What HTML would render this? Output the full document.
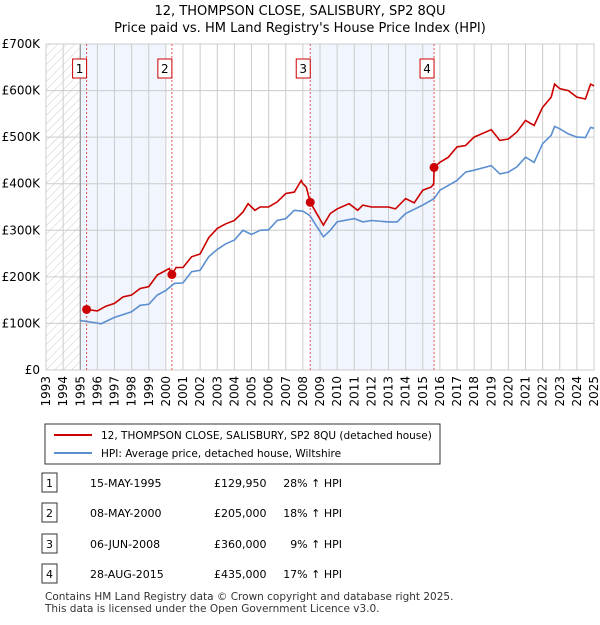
<!DOCTYPE html>
<html><head><meta charset="utf-8"><style>
body{margin:0;width:600px;height:620px;background:#fff;font-family:"Liberation Sans","DejaVu Sans",sans-serif;overflow:hidden}
svg text{font-family:"DejaVu Sans","Liberation Sans",sans-serif}
</style></head><body>
<svg id="chart" width="600" height="620" xmlns="http://www.w3.org/2000/svg">
<defs><pattern id="hatch" width="6" height="6" patternUnits="userSpaceOnUse" patternTransform="rotate(45)"><line x1="0" y1="0" x2="0" y2="6" stroke="#ccc" stroke-width="1"/></pattern></defs>
<text x="300" y="15" text-anchor="middle" font-size="13">12, THOMPSON CLOSE, SALISBURY, SP2 8QU</text>
<text x="300" y="32" text-anchor="middle" font-size="13">Price paid vs. HM Land Registry's House Price Index (HPI)</text>
<g id="plot"></g>
<g>
<rect x="45" y="424" width="395" height="40" fill="#fff" stroke="#333"/>
<line x1="54" y1="435" x2="92" y2="435" stroke="#cc0000" stroke-width="2"/>
<text x="101" y="439" font-size="10.5">12, THOMPSON CLOSE, SALISBURY, SP2 8QU (detached house)</text>
<line x1="54" y1="453" x2="92" y2="453" stroke="#5b8fd0" stroke-width="2"/>
<text x="101" y="457" font-size="10.5">HPI: Average price, detached house, Wiltshire</text>
</g>
<g id="table" font-size="11"></g>
<text x="45" y="600" font-size="10.5" fill="#333">Contains HM Land Registry data © Crown copyright and database right 2025.</text>
<text x="45" y="612" font-size="10.5" fill="#333">This data is licensed under the Open Government Licence v3.0.</text>
</svg>
<script>
const hpiYears=[1995,1996,1996.2,1997,1998,1998.5,1999,1999.5,2000,2000.5,2001,2001.5,2002,2002.5,2003,2003.5,2004,2004.5,2005,2005.5,2006,2006.5,2007,2007.5,2008,2008.4,2009.2,2009.6,2010,2011,2011.5,2012,2013,2013.5,2014,2015,2015.66,2016,2017,2017.5,2018,2019,2019.5,2020,2020.5,2021,2021.5,2022,2022.5,2022.7,2023,2023.5,2024,2024.5,2024.8,2025];
const hpiValues=[106,101,99,113,125,139,141,161,171,186,187,211,214,243,259,271,279,300,291,300,301,321,325,343,341,332,286,300,318,325,318,321,318,318,336,354,368,386,407,425,429,439,421,425,436,457,446,486,504,523,518,507,500,499,521,519];
const priceYears=[1995.2,1995.37,1996,1996.5,1997,1997.5,1998,1998.5,1999,1999.5,2000.2,2000.35,2000.6,2001,2001.5,2002,2002.5,2003,2003.5,2004,2004.5,2004.8,2005.2,2005.5,2006,2006.5,2007,2007.5,2007.9,2008,2008.2,2008.43,2009.2,2009.6,2010,2010.7,2011.2,2011.5,2012,2013,2013.4,2014,2014.5,2015,2015.5,2015.64,2015.66,2016,2016.5,2017,2017.5,2018,2019,2019.5,2020,2020.5,2021,2021.5,2022,2022.5,2022.7,2023,2023.5,2024,2024.5,2024.8,2025];
const priceValues=[133,130,127,137,143,157,161,175,179,204,218,205,220,220,243,249,284,304,314,321,339,357,343,350,350,361,379,382,407,400,393,360,311,336,346,357,343,354,350,350,346,368,359,386,393,400,435,446,457,479,482,500,516,493,496,511,536,525,564,586,614,604,600,586,582,614,610];
const saleYears=[1995.37,2000.35,2008.43,2015.66];
const saleValues=[129.95,205,360,435];
const saleLabels=["1","2","3","4"];
const saleDates=["15-MAY-1995","08-MAY-2000","06-JUN-2008","28-AUG-2015"];
const salePrices=["£129,950","£205,000","£360,000","£435,000"];
const saleHpi=["28% ↑ HPI","18% ↑ HPI","9% ↑ HPI","17% ↑ HPI"];
const yTicks=[0,100,200,300,400,500,600,700];
const yTickLabels=["£0","£100K","£200K","£300K","£400K","£500K","£600K","£700K"];
const X0=46,X1=594,Y0=370,Y1=44;
const xs=y=>X0+(y-1993)/32*(X1-X0);
const ys=v=>Y0-v/700*(Y0-Y1);
const NS="http://www.w3.org/2000/svg";
const plot=document.getElementById('plot');
function mk(tag,attrs,parent){const e=document.createElementNS(NS,tag);for(const k in attrs)e.setAttribute(k,attrs[k]);(parent||plot).appendChild(e);return e;}
let e;
e=mk('rect',{x:xs(1993),y:Y1,width:xs(1995)-xs(1993),height:Y0-Y1,fill:'url(#hatch)'});


e=mk('rect',{x:xs(1995),y:Y1,width:xs(2000)-xs(1995),height:Y0-Y1,fill:'#f1f5fd'});


e=mk('rect',{x:xs(saleYears[2]),y:Y1,width:xs(saleYears[3])-xs(saleYears[2]),height:Y0-Y1,fill:'#f1f5fd'});


for(let yr=1993;yr<=2025;yr++){
 e=mk('line',{x1:xs(yr),x2:xs(yr),y1:Y1,y2:Y0,stroke:'#ccc','stroke-width':1});
 
 
 e=mk('text',{x:0,y:0,'font-size':12,'text-anchor':'end',transform:`translate(${xs(yr)+4},${Y0+6}) rotate(-90)`});
 e.textContent=yr;
 
 
}
yTicks.forEach((v,i)=>{
 e=mk('line',{x1:X0,x2:X1,y1:ys(v),y2:ys(v),stroke:'#ccc','stroke-width':1});
 
 
 e=mk('text',{x:X0-6,y:ys(v)+4,'font-size':12,'text-anchor':'end'});
 e.textContent=yTickLabels[i];
 
 
});
e=mk('line',{x1:xs(1995),x2:xs(1995),y1:Y1,y2:Y0,stroke:'#888'});


e=mk('rect',{x:X0,y:Y1,width:X1-X0,height:Y0-Y1,fill:'none',stroke:'#ccc'});


saleYears.forEach((yr,i)=>{
 e=mk('line',{x1:xs(yr),x2:xs(yr),y1:Y1,y2:Y0,stroke:'#e05555','stroke-dasharray':'2,2','stroke-width':1});
 
 
});
e=mk('path',{d:hpiYears.map((y,i)=>(i?'L':'M')+xs(y).toFixed(1)+','+ys(hpiValues[i]).toFixed(1)).join(''),fill:'none',stroke:'#5b8fd0','stroke-width':1.6});


e=mk('path',{d:priceYears.map((y,i)=>(i?'L':'M')+xs(y).toFixed(1)+','+ys(priceValues[i]).toFixed(1)).join(''),fill:'none',stroke:'#cc0000','stroke-width':1.6});


saleYears.forEach((yr,i)=>{
 e=mk('circle',{cx:xs(yr),cy:ys(saleValues[i]),r:4.5,fill:'#cc0000'});
 
 
 const g=mk('g',{});
 
 
 mk('rect',{x:xs(yr)-14,y:59,width:14,height:19,fill:'#fff',stroke:'#cc0000'},g);
 const t=mk('text',{x:xs(yr)-7,y:73,'font-size':12,'text-anchor':'middle'},g);
 t.textContent=saleLabels[i];
});
const tbl=document.getElementById('table');
const rowY=[484,514,545,575];
saleLabels.forEach((l,i)=>{
 const g=mk('g',{},tbl);
 
 
 mk('rect',{x:42,y:rowY[i]-11,width:15,height:19,fill:'#fff',stroke:'#333'},g);
 let t=mk('text',{x:49.5,y:rowY[i]+3,'text-anchor':'middle'},g);t.textContent=l;
 t=mk('text',{x:90,y:rowY[i]+3},g);t.textContent=saleDates[i];
 t=mk('text',{x:214,y:rowY[i]+3},g);t.textContent=salePrices[i];
 t=mk('text',{x:342,y:rowY[i]+3,'text-anchor':'end'},g);t.textContent=saleHpi[i];
});
</script>
</body></html>
